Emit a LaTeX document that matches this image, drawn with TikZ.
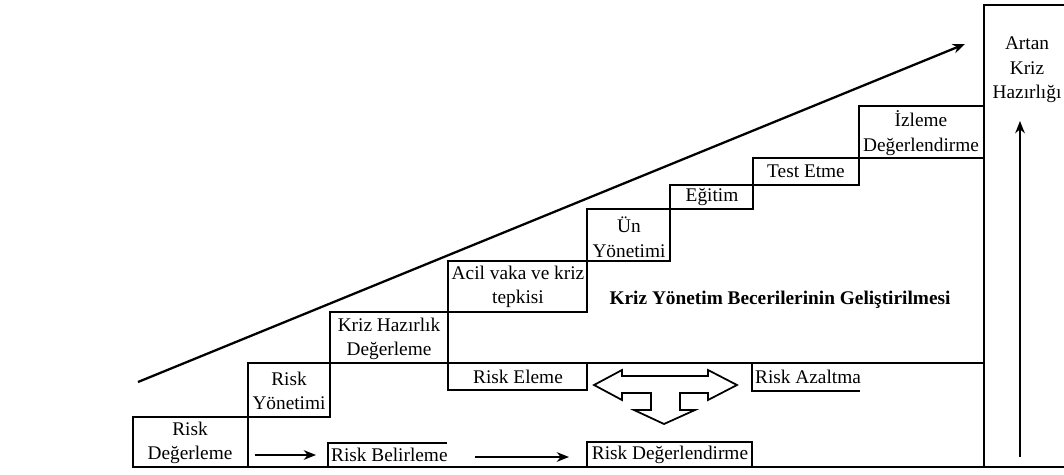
\documentclass[tikz,border=0pt]{standalone}
\usepackage{fontspec}
\setmainfont{Liberation Serif}
\usetikzlibrary{arrows.meta}

\begin{document}
\begin{tikzpicture}[x=0.02cm,y=-0.02cm,line join=miter,>={Stealth[length=7pt,width=5.5pt]},
  every node/.style={inner sep=1pt,align=center,font=\fontsize{11}{14}\selectfont},
  stair/.style={line width=1.6pt},
  arrline/.style={->,line width=1pt}]
  \useasboundingbox (0,0) rectangle (1064,474);
  % steps
  \foreach \xa/\ya/\xb/\yb in {133/417/248/467,248/363/330/417,330/312/448/363,448/261/587/312,
      587/209/670/261,670/185/753/209,753/158/859/185,859/106/984/158}{
    \draw[stair] (\xa,\ya) rectangle (\xb,\yb);
  }
  \node (sRD) at (190,443) {Risk\\Değerleme};
  \node (sRY) at (289,391) {Risk\\Yönetimi};
  \node (sKH) at (389,339) {Kriz Hazırlık\\Değerleme};
  \node (sAV) at (518,287) {Acil vaka ve kriz\\tepkisi};
  \node (sUY) at (629,237) {Ün\\Yönetimi};
  \node (sEG) at (712,197) {Eğitim};
  \node (sTE) at (806,171) {Test Etme};
  \node (sIZ) at (921,133) {İzleme\\Değerlendirme};
  \node[font=\bfseries\fontsize{11}{14}\selectfont] (title) at (780,300) {Kriz Yönetim Becerilerinin Geliştirilmesi};
  % risk row
  \draw[stair] (448,363) rectangle (587,390);
  \draw[stair] (587,363) -- (984,363);
  \draw[stair] (752,363) -- (752,391) -- (860,391);
  \node (rEL) at (518,377) {Risk Eleme};
  \node[anchor=west] (rAZ) at (753,377) {Risk Azaltma};
  \draw[line width=1pt,fill=white] (594,385) -- (622,370) -- (622,376) -- (708,376) -- (708,370) -- (737,385)
    -- (708,400) -- (708,393) -- (680,393) -- (680,410) -- (695,410) -- (664,424) -- (634,410)
    -- (651,410) -- (651,393) -- (622,393) -- (622,400) -- cycle;
  % bottom row
  \draw[stair] (328,467) -- (328,443) -- (447,443);
  \draw[stair] (587,442) rectangle (752,467);
  \draw[stair] (133,467) -- (1064,467);
  \node[anchor=west] (rBL) at (329,455) {Risk Belirleme};
  \node (rDG) at (670,455) {Risk Değerlendirme};
  \coordinate (a1s) at (255,455);
  \coordinate (a1e) at (316,455);
  \coordinate (a2s) at (475,457);
  \coordinate (a2e) at (569,457);
  \draw[arrline] (a1s) -- (a1e);
  \draw[arrline] (a2s) -- (a2e);
  % preparedness
  \draw[stair] (1064,5) -- (984,5) -- (984,467);
  \node (artan) at (1027,70) {Artan\\Kriz\\Hazırlığı};
  \coordinate (upS) at (1020,457);
  \coordinate (upE) at (1020,121);
  \draw[->,line width=1pt] (upS) -- (upE);
  \coordinate (dgS) at (138,382);
  \coordinate (dgE) at (965,44);
  \draw[->,line width=1.3pt] (dgS) -- (dgE);
\end{tikzpicture}
\end{document}
